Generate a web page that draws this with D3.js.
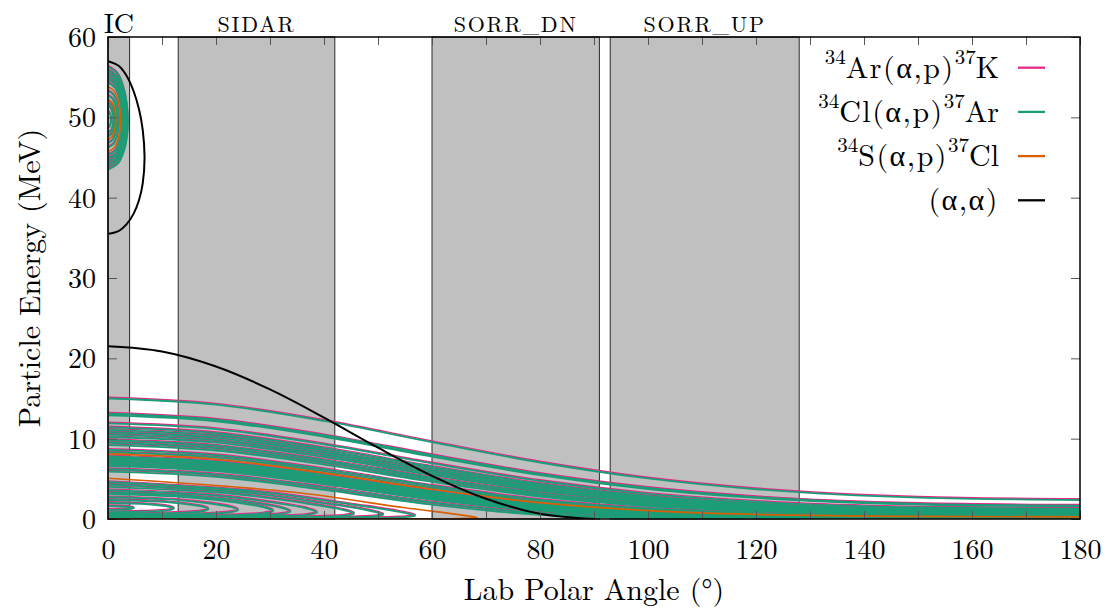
<!DOCTYPE html>
<html>
<head>
<meta charset="utf-8">
<script src="https://cdn.jsdelivr.net/npm/d3@7"></script>
<style>
  body { margin: 0; background: #fff; }
</style>
</head>
<body>
<svg id="chart" width="1106" height="611"></svg>
<script>
// lab angle grid (deg) used by the full proton curves
const ANGLES = [0, 20, 40, 60, 80, 100, 120, 150, 180];

// 34Ar(a,p) / 34Cl(a,p) proton branches, energy (MeV) at ANGLES
const protonCurves = [
  [15.00, 14.24, 12.21, 9.57, 7.04, 5.05, 3.71, 2.66, 2.37],
  [13.10, 12.36, 10.42, 7.94, 5.61, 3.86, 2.72, 1.88, 1.65],
  [12.90, 12.17, 10.24, 7.77, 5.47, 3.74, 2.63, 1.80, 1.58],
  [11.90, 11.19, 9.30, 6.92, 4.73, 3.13, 2.14, 1.43, 1.25],
  [11.40, 10.69, 8.83, 6.49, 4.37, 2.84, 1.91, 1.25, 1.09],
  [11.10, 10.40, 8.55, 6.24, 4.15, 2.66, 1.77, 1.15, 1.00],
  [10.80, 10.10, 8.27, 5.98, 3.93, 2.49, 1.64, 1.05, 0.91],
  [10.50, 9.80, 7.99, 5.73, 3.72, 2.32, 1.51, 0.96, 0.82],
  [10.20, 9.51, 7.71, 5.48, 3.51, 2.15, 1.38, 0.87, 0.74],
  [9.80, 9.11, 7.33, 5.14, 3.22, 1.93, 1.21, 0.75, 0.63],
  [9.50, 8.82, 7.06, 4.89, 3.01, 1.77, 1.09, 0.66, 0.56],
  [9.20, 8.52, 6.77, 4.63, 2.80, 1.61, 0.97, 0.58, 0.49],
  [8.60, 7.94, 6.21, 4.13, 2.38, 1.30, 0.75, 0.43, 0.36],
  [8.30, 7.64, 5.93, 3.87, 2.17, 1.14, 0.64, 0.36, 0.30],
  [7.80, 7.14, 5.46, 3.45, 1.83, 0.90, 0.48, 0.26, 0.21],
  [7.60, 6.95, 5.27, 3.28, 1.69, 0.80, 0.41, 0.22, 0.18],
  [7.40, 6.75, 5.08, 3.11, 1.56, 0.71, 0.36, 0.18, 0.15],
  [7.20, 6.55, 4.89, 2.94, 1.42, 0.62, 0.30, 0.15, 0.12],
  [7.00, 6.35, 4.70, 2.77, 1.28, 0.53, 0.25, 0.12, 0.10],
  [6.80, 6.16, 4.51, 2.59, 1.15, 0.44, 0.20, 0.09, 0.08],
  [6.60, 5.96, 4.32, 2.42, 1.01, 0.36, 0.15, 0.07, 0.06],
  [6.20, 5.56, 3.94, 2.07, 0.74, 0.21, 0.07, 0.03, 0.02],
  [5.90, 5.26, 3.64, 1.79, 0.52, 0.10, 0.03, 0.01, 0.01]
];
// 34S(a,p) full branch at ANGLES
const sulfurCurve = [8.10, 7.44, 5.74, 3.70, 2.04, 1.04, 0.57, 0.32, 0.26];

// low energy proton branches that fold back (forward cone), [angle, E]
const protonLoops = [
  [[0,4.60],[28.5,3.35],[45.5,1.77],[54,0.89],[56.9,0.41],[54,0.19],[45.5,0.093],[28.5,0.049],[0,0.036]],
  [[0,4.30],[25.5,3.27],[40.8,1.89],[48.5,1.03],[51,0.54],[48.5,0.28],[40.8,0.15],[25.5,0.089],[0,0.068]],
  [[0,4.00],[23,3.14],[36.5,1.96],[43.3,1.17],[45.6,0.67],[43.3,0.38],[36.5,0.23],[23,0.14],[0,0.11]],
  [[0,3.60],[19.4,2.96],[31,2.00],[36.8,1.31],[38.7,0.83],[36.8,0.52],[31,0.34],[19.4,0.23],[0,0.19]],
  [[0,3.30],[16.9,2.79],[27,2.00],[32.1,1.40],[33.8,0.94],[32.1,0.63],[27,0.44],[16.9,0.32],[0,0.27]],
  [[0,3.10],[15.3,2.67],[24.5,1.98],[29,1.44],[30.6,1.01],[29,0.71],[24.5,0.51],[15.3,0.38],[0,0.33]],
  [[0,2.70],[12,2.41],[19.3,1.90],[22.9,1.48],[24.1,1.13],[22.9,0.87],[19.3,0.68],[12,0.54],[0,0.48]],
  [[0,2.37],[9.3,2.17],[14.9,1.82],[17.7,1.50],[18.6,1.22],[17.7,1.00],[14.9,0.82],[9.3,0.69],[0,0.63]],
  [[0,2.00],[6.1,1.89],[9.8,1.68],[11.6,1.49],[12.2,1.30],[11.6,1.14],[9.8,1.01],[6.1,0.90],[0,0.85]],
  [[0,1.60],[2.4,1.56],[3.8,1.50],[4.8,1.35],[3.8,1.22],[2.4,1.17],[0,1.14]]
];
const sulfurLoop = [[0,5.07],[34,3.36],[55,1.40],[65,0.54],[68.4,0.18],[65,0.064],[55,0.025],[34,0.010],[0,0.007]];

// heavy recoils near 0 deg, [angle, E]
const recoilLoops = [
  [[0,56.31],[1.85,55.35],[2.95,53.48],[3.51,51.53],[3.69,49.50],[3.51,47.54],[2.95,45.81],[1.85,44.26],[0,43.51]],
  [[0,55.88],[1.73,54.98],[2.77,53.24],[3.29,51.42],[3.46,49.52],[3.29,47.69],[2.77,46.06],[1.73,44.61],[0,43.89]],
  [[0,55.50],[1.63,54.67],[2.60,53.04],[3.09,51.33],[3.25,49.54],[3.09,47.82],[2.60,46.28],[1.63,44.90],[0,44.22]],
  [[0,55.13],[1.52,54.35],[2.44,52.83],[2.90,51.24],[3.05,49.56],[2.90,47.94],[2.44,46.49],[1.52,45.19],[0,44.56]],
  [[0,54.76],[1.42,54.04],[2.28,52.63],[2.70,51.14],[2.85,49.58],[2.70,48.07],[2.28,46.71],[1.42,45.49],[0,44.89]],
  [[0,54.32],[1.30,53.66],[2.08,52.38],[2.47,51.03],[2.60,49.60],[2.47,48.21],[2.08,46.97],[1.30,45.85],[0,45.29]],
  [[0,53.29],[1.02,52.79],[1.63,51.80],[1.93,50.75],[2.03,49.64],[1.93,48.55],[1.63,47.57],[1.02,46.68],[0,46.24]],
  [[0,52.71],[0.85,52.29],[1.37,51.47],[1.62,50.59],[1.71,49.66],[1.62,48.74],[1.37,47.91],[0.85,47.16],[0,46.79]],
  [[0,51.84],[0.61,51.55],[0.98,50.96],[1.16,50.34],[1.22,49.68],[1.16,49.03],[0.98,48.43],[0.61,47.88],[0,47.61]],
  [[0,51.41],[0.49,51.17],[0.78,50.71],[0.93,50.22],[0.98,49.69],[0.93,49.16],[0.78,48.68],[0.49,48.24],[0,48.02]],
  [[0,50.69],[0.28,50.56],[0.46,50.30],[0.54,50.01],[0.57,49.70],[0.54,49.40],[0.46,49.11],[0.28,48.85],[0,48.72]]
];
const sulfurRecoilLoops = [
  [[0,53.83],[1.17,53.25],[1.87,52.11],[2.21,50.90],[2.33,49.62],[2.21,48.37],[1.87,47.25],[1.17,46.24],[0,45.74]],
  [[0,52.23],[0.72,51.88],[1.15,51.19],[1.37,50.46],[1.44,49.67],[1.37,48.90],[1.15,48.20],[0.72,47.56],[0,47.24]]
];

// elastic (a,a): scattered alpha and scattered beam
const alphaAngles = [0, 10, 20, 30, 40, 50, 60, 70, 80, 90];
const alphaEnergy = [21.5, 20.85, 18.98, 16.13, 12.62, 8.88, 5.38, 2.52, 0.65, 0];
const beamLoop = [[0,57.0],[2.03,56.39],[3.38,55.23],[4.73,53.28],[5.75,50.97],[6.43,48.44],[6.77,44.98],
                  [6.43,41.77],[5.75,39.70],[4.73,37.98],[3.38,36.64],[2.03,35.88],[0,35.5]];

// detector coverage (deg)
const detectorNames = ["IC", "SIDAR", "SORR_DN", "SORR_UP"];
const detectorFrom = [0, 13, 60, 93];
const detectorTo = [4, 42, 91, 128];

const xTicks = d3.range(0, 181, 10);
const yTicks = d3.range(0, 61, 10);

const legendLabels = [
  ["34", "Ar(α,p)", "37", "K"],
  ["34", "Cl(α,p)", "37", "Ar"],
  ["34", "S(α,p)", "37", "Cl"],
  ["", "(α,α)", "", ""]
];
const PINK = "#e7298a", GREEN = "#1b9e77", ORANGE = "#d95f02";
const legendColors = [PINK, GREEN, ORANGE, "#000"];
const FONT = '"Latin Modern Roman", "Liberation Serif", serif';

const svg = d3.select("#chart");
const pL = 108, pR = 1080, pT = 37, pB = 519;

const x = d3.scaleLinear().domain([0, 180]).range([pL, pR]);
const y = d3.scaleLinear().domain([0, 60]).range([pB, pT]);

svg.append("defs").append("clipPath").attr("id", "plot")
  .append("rect").attr("x", pL).attr("y", pT)
  .attr("width", pR - pL).attr("height", pB - pT);

// detector bands
const bands = svg.append("g");
detectorNames.forEach((name, i) => {
  bands.append("rect")
    .attr("x", x(detectorFrom[i])).attr("y", pT)
    .attr("width", x(detectorTo[i]) - x(detectorFrom[i]))
    .attr("height", pB - pT)
    .attr("fill", "#c0c0c0").attr("stroke", "#2a2a2a").attr("stroke-width", 1);
  const cx = (x(detectorFrom[i]) + x(detectorTo[i])) / 2;
  svg.append("text")
    .attr("x", cx).attr("y", name == "IC" ? 33 : 32)
    .attr("text-anchor", "middle")
    .style("font-size", name == "IC" ? "28px" : "22px")
    .style("letter-spacing", name == "IC" ? "0px" : "1.8px")
    .text(name);
});

const line = d3.line().x(d => x(d[0])).y(d => y(d[1])).curve(d3.curveMonotoneX);
const loop = d3.line().x(d => x(d[0])).y(d => y(d[1])).curve(d3.curveCatmullRom.alpha(0.5));
const asPoints = (vals, angles) => angles.map((a, i) => [a, vals[i]]);

const plot = svg.append("g").attr("clip-path", "url(#plot)");

function drawSet(g, color, width) {
  protonCurves.forEach(c => g.append("path").attr("d", line(asPoints(c, ANGLES)))
    .attr("fill", "none").attr("stroke", color).attr("stroke-width", width));
  protonLoops.forEach(c => g.append("path").attr("d", loop(c))
    .attr("fill", "none").attr("stroke", color).attr("stroke-width", width));
  recoilLoops.forEach(c => g.append("path").attr("d", loop(c))
    .attr("fill", "none").attr("stroke", color).attr("stroke-width", width));
}

// 34Ar (pink) sits a hair above 34Cl (green)
drawSet(plot.append("g").attr("transform", "translate(0,-1.2)"), PINK, 1.4);
drawSet(plot.append("g"), GREEN, 1.9);

const sg = plot.append("g");
sg.append("path").attr("d", line(asPoints(sulfurCurve, ANGLES)));
sg.append("path").attr("d", loop(sulfurLoop));
sulfurRecoilLoops.forEach(c => sg.append("path").attr("d", loop(c)));
sg.selectAll("path").attr("fill", "none").attr("stroke", ORANGE).attr("stroke-width", 1.7);

const bg = plot.append("g");
bg.append("path").attr("d", line(asPoints(alphaEnergy, alphaAngles)));
bg.append("path").attr("d", loop(beamLoop));
bg.selectAll("path").attr("fill", "none").attr("stroke", "#000").attr("stroke-width", 2);

// axes, ticks inward on all four sides
const axB = svg.append("g").attr("transform", `translate(0,${pB})`)
  .call(d3.axisBottom(x).tickValues(xTicks).tickSize(-8).tickPadding(20)
    .tickFormat(d => d % 20 == 0 ? d : ""));
const axT = svg.append("g").attr("transform", `translate(0,${pT})`)
  .call(d3.axisTop(x).tickValues(xTicks).tickSize(-8).tickFormat(""));
const axL = svg.append("g").attr("transform", `translate(${pL},0)`)
  .call(d3.axisLeft(y).tickValues(yTicks).tickSize(-9).tickPadding(12));
const axR = svg.append("g").attr("transform", `translate(${pR},0)`)
  .call(d3.axisRight(y).tickValues(yTicks).tickSize(-9).tickFormat(""));

[axB, axT, axL, axR].forEach(a => {
  a.attr("font-family", null).attr("font-size", null);
  a.select(".domain").remove();
  a.selectAll("line").attr("stroke", "#555").attr("stroke-width", 1);
  a.selectAll("text").style("font-size", "28px").attr("fill", "#000");
});
axL.selectAll("text").attr("dy", "0.34em");

svg.append("rect").attr("x", pL).attr("y", pT)
  .attr("width", pR - pL).attr("height", pB - pT)
  .attr("fill", "none").attr("stroke", "#000").attr("stroke-width", 1.5);

svg.append("text").attr("x", (pL + pR) / 2).attr("y", 600)
  .attr("text-anchor", "middle").style("font-size", "30px")
  .text("Lab Polar Angle (°)");
svg.append("text").attr("transform", `translate(40,${(pT + pB) / 2}) rotate(-90)`)
  .attr("text-anchor", "middle").style("font-size", "30px")
  .text("Particle Energy (MeV)");

// legend
const lg = svg.append("g");
legendLabels.forEach((lab, i) => {
  const ly = 67.7 + i * 44.2;
  const t = lg.append("text").attr("x", 999).attr("y", ly + 10)
    .attr("text-anchor", "end").style("font-size", "30px");
  if (lab[0]) t.append("tspan").attr("dy", -14).style("font-size", "21px").text(lab[0]);
  t.append("tspan").attr("dy", lab[0] ? 14 : 0).style("letter-spacing", "1.5px").text(lab[1]);
  if (lab[2]) t.append("tspan").attr("dy", -14).style("font-size", "21px").text(lab[2]);
  if (lab[3]) t.append("tspan").attr("dy", 14).text(lab[3]);
  lg.append("line").attr("x1", 1018).attr("x2", 1045).attr("y1", ly).attr("y2", ly)
    .attr("stroke", legendColors[i]).attr("stroke-width", 2.3);
});

svg.selectAll("text").style("font-family", FONT).style("fill", "#000");
</script>
</body>
</html>
